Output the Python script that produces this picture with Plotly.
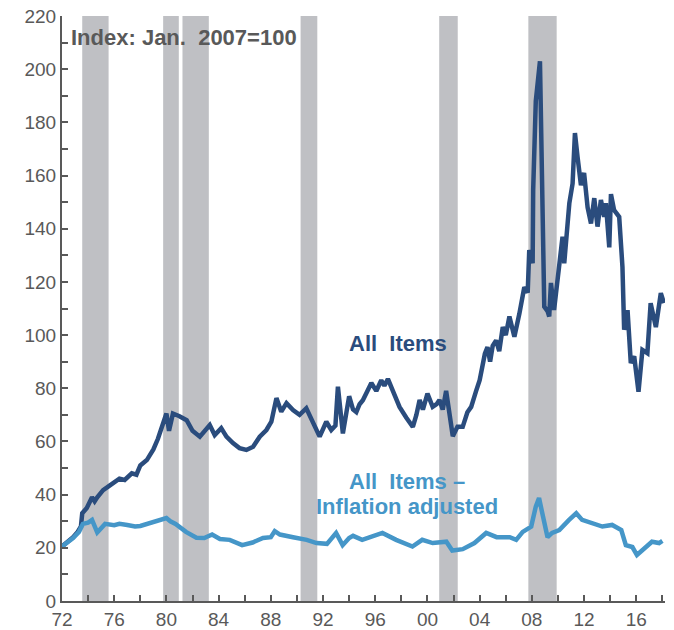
import plotly.graph_objects as go

# ---- Data ----
all_years = [1972.0, 1972.4, 1972.85, 1973.2, 1973.45, 1973.55, 1973.9, 1974.3, 1974.5, 1974.7,
             1975.15, 1975.7, 1976.4, 1976.8, 1977.35, 1977.7, 1978.0, 1978.5, 1979.0, 1979.35,
             1979.65, 1980.0, 1980.2, 1980.5, 1981.0, 1981.55, 1982.0, 1982.56, 1983.32, 1983.7,
             1984.2, 1984.6, 1985.1, 1985.6, 1986.13, 1986.64, 1987.15, 1987.66, 1988.04, 1988.43,
             1988.8, 1989.2, 1989.7, 1990.2, 1990.72, 1991.23, 1991.74, 1992.25, 1992.63, 1992.95,
             1993.14, 1993.52, 1993.75, 1994.0, 1994.3, 1994.55, 1994.8, 1995.05, 1995.4, 1995.7,
             1996.08, 1996.46, 1996.7, 1996.97, 1997.35, 1997.86, 1998.37, 1998.88, 1999.15, 1999.4,
             1999.65, 2000.0, 2000.4, 2000.7, 2000.92, 2001.17, 2001.43, 2001.7, 2001.94, 2002.3,
             2002.7, 2003.06, 2003.35, 2003.73, 2004.0, 2004.4, 2004.6, 2004.8, 2005.0, 2005.26,
             2005.5, 2005.77, 2006.0, 2006.28, 2006.66, 2007.04, 2007.42, 2007.68, 2007.8, 2008.06,
             2008.1, 2008.3, 2008.62, 2008.95, 2009.2, 2009.33, 2009.46, 2009.7, 2010.1, 2010.35,
             2010.48, 2010.87, 2011.12, 2011.3, 2011.5, 2011.76, 2012.0, 2012.27, 2012.53, 2012.78,
             2013.03, 2013.29, 2013.54, 2013.67, 2013.93, 2014.06, 2014.3, 2014.69, 2014.94, 2015.07,
             2015.33, 2015.58, 2015.84, 2016.17, 2016.47, 2016.85, 2017.1, 2017.5, 2017.88, 2018.12]
all_values = [20.5, 22, 24, 26, 28, 33, 35, 39, 37.5, 39,
              41.7, 43.6, 46, 45.5, 48, 47.5, 51, 53, 57, 61,
              65, 70.5, 64, 70.5, 69.5, 68, 64, 61.8, 66.2, 62.4,
              65, 61.8, 59.4, 57.5, 56.8, 58, 61.8, 64.3, 67.4, 76.3,
              71.2, 74.4, 71.8, 70, 72.5, 66.8, 61.8, 67.4, 64.3, 66,
              80.6, 63, 70, 77, 72, 71, 74, 75.5, 79, 82,
              79, 83, 81, 83.5, 79, 73, 69, 65.5, 70, 75.6,
              72, 78, 73, 74, 75.6, 72, 79, 69, 62, 65.5,
              65.5, 71, 73, 79, 83, 93, 95.5, 90, 96, 98,
              94, 103, 100, 107, 99.4, 108, 118, 116, 132, 127,
              154.6, 188, 203, 110.7, 109, 107, 119.6, 109.4, 127, 137,
              127, 149.6, 157, 176, 167, 156.4, 161, 148, 142, 151.5,
              140.8, 150.8, 144.5, 149.6, 133, 153, 147, 144.5, 125.7, 102,
              109.4, 89.5, 92, 78.7, 94.4, 93.2, 112, 103, 115.8, 112]

adj_years = [1972.0, 1972.85, 1973.3, 1973.6, 1974.0, 1974.3, 1974.7, 1975.3, 1976.0, 1976.4,
             1977.0, 1977.6, 1978.0, 1978.6, 1979.5, 1980.0, 1980.3, 1980.7, 1981.5, 1982.3,
             1982.9, 1983.5, 1984.1, 1984.85, 1985.8, 1986.6, 1987.4, 1988.0, 1988.3, 1988.7,
             1989.7, 1990.75, 1991.5, 1992.3, 1993.0, 1993.5, 1994.0, 1994.3, 1995.0, 1995.8,
             1996.55, 1997.6, 1998.85, 1999.6, 2000.4, 2001.45, 2001.9, 2002.7, 2003.6, 2004.5,
             2005.3, 2006.3, 2006.8, 2007.3, 2007.95, 2008.3, 2008.55, 2008.8, 2009.2, 2009.55,
             2010.1, 2010.85, 2011.4, 2011.85, 2012.9, 2013.4, 2014.15, 2014.85, 2015.2, 2015.7,
             2016.05, 2016.75, 2017.2, 2017.75, 2018.0]
adj_values = [20.5, 23.7, 26, 29, 29.5, 30.5, 25.8, 29, 28.5, 29,
              28.6, 28, 28.2, 29, 30.5, 31.2, 30, 29, 26, 23.8,
              23.7, 25, 23.3, 23, 21, 22, 23.7, 24, 26.3, 25,
              24, 23, 21.8, 21.5, 25.6, 21, 23.7, 24.5, 23, 24.5,
              25.6, 23, 20.5, 23, 21.8, 22.3, 19, 19.5, 21.8, 25.6,
              24, 24, 23, 26, 28, 35.5, 38.7, 33, 24, 25.6,
              26.7, 30.5, 33, 30.5, 28.6, 28, 28.6, 26.7, 21, 20.3,
              17.3, 20.3, 22.3, 21.8, 22.6]

recession_start = [1973.55, 1979.75, 1981.23, 1990.28, 2000.9, 2007.73]
recession_end = [1975.57, 1980.95, 1983.25, 1991.56, 2002.32, 2009.9]

tick_years = [1972, 1976, 1980, 1984, 1988, 1992, 1996, 2000, 2004, 2008, 2012, 2016]
tick_labels = ["72", "76", "80", "84", "88", "92", "96", "00", "04", "08", "12", "16"]

# ---- Styles ----
DARK = "#2A4C7D"
LIGHT = "#4596C8"
GRAY_TXT = "#595959"
REC = "#BFC0C4"
FONT = "Liberation Sans, Arial, sans-serif"

fig = go.Figure()

fig.add_trace(go.Scatter(x=all_years, y=all_values, mode="lines",
                         line=dict(color=DARK, width=4.5), name="All Items",
                         showlegend=False))
fig.add_trace(go.Scatter(x=adj_years, y=adj_values, mode="lines",
                         line=dict(color=LIGHT, width=4.5),
                         name="All Items - Inflation adjusted", showlegend=False))

for s, e in zip(recession_start, recession_end):
    fig.add_shape(type="rect", xref="x", yref="y", x0=s, x1=e, y0=0, y1=220,
                  fillcolor=REC, line=dict(width=0), layer="below")

fig.add_annotation(x=1972.55, y=212, xref="x", yref="y", text="<b>Index: Jan.  2007=100</b>",
                   showarrow=False, xanchor="left", yanchor="middle",
                   font=dict(family=FONT, size=22, color=GRAY_TXT))
fig.add_annotation(x=1997.75, y=96.7, xref="x", yref="y", text="<b>All  Items</b>",
                   showarrow=False, xanchor="center", yanchor="middle",
                   font=dict(family=FONT, size=22, color=DARK))
fig.add_annotation(x=1998.4, y=44.9, xref="x", yref="y", text="<b>All  Items –</b>",
                   showarrow=False, xanchor="center", yanchor="middle",
                   font=dict(family=FONT, size=22, color=LIGHT))
fig.add_annotation(x=1998.4, y=35.5, xref="x", yref="y", text="<b>Inflation adjusted</b>",
                   showarrow=False, xanchor="center", yanchor="middle",
                   font=dict(family=FONT, size=22, color=LIGHT))

# The page body adds an 8px offset, so the figure is sized to fill the rest of the window.
fig.update_layout(
    width=666, height=622,
    margin=dict(l=54, r=9, t=8, b=29, autoexpand=False),
    paper_bgcolor="white", plot_bgcolor="white",
    font=dict(family=FONT, size=19, color=GRAY_TXT),
    xaxis=dict(range=[1972, 2018.2], tickvals=tick_years, ticktext=tick_labels,
               automargin=False, ticklabeloverflow="allow",
               showline=True, linecolor=GRAY_TXT, linewidth=2, ticks="inside",
               ticklen=6, tickwidth=1.5, tickcolor=GRAY_TXT, showgrid=False,
               zeroline=False, tickfont=dict(size=19, color=GRAY_TXT),
               minor=dict(tick0=1972, dtick=2, ticks="inside", ticklen=6,
                          tickwidth=1.5, tickcolor=GRAY_TXT, showgrid=False)),
    yaxis=dict(range=[0, 220], dtick=20, tick0=0, showline=True, linecolor=GRAY_TXT,
               automargin=False, ticklabeloverflow="allow",
               linewidth=2, ticks="inside", ticklen=6, tickwidth=1.5,
               tickcolor=GRAY_TXT, showgrid=False, zeroline=False,
               tickfont=dict(size=19, color=GRAY_TXT),
               minor=dict(dtick=10, ticks="inside", ticklen=6, tickwidth=1.5,
                          tickcolor=GRAY_TXT, showgrid=False)),
)

fig.write_html("out.html")
